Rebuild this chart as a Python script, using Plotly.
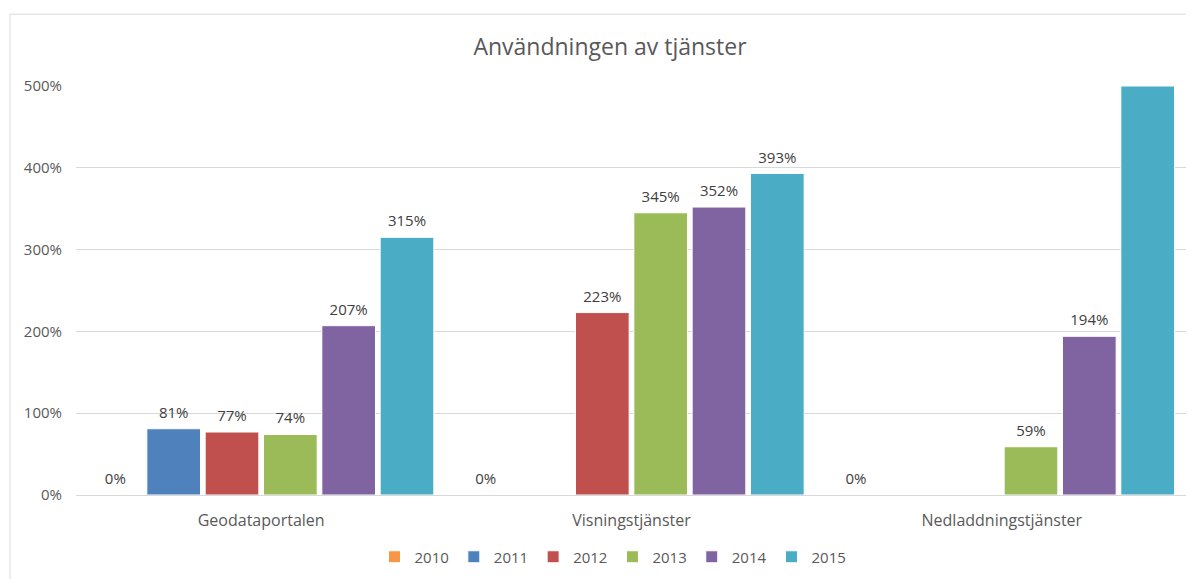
import plotly.graph_objects as go

categories = ["Geodataportalen", "Visningstjänster", "Nedladdningstjänster"]
years = ["2010", "2011", "2012", "2013", "2014", "2015"]
values = {
    "2010": [0, 0, 0],
    "2011": [81, None, None],
    "2012": [77, 223, None],
    "2013": [74, 345, 59],
    "2014": [207, 352, 194],
    "2015": [315, 393, 500],
}
labels = {
    "2010": ["0%", "0%", "0%"],
    "2011": ["81%", "", ""],
    "2012": ["77%", "223%", ""],
    "2013": ["74%", "345%", "59%"],
    "2014": ["207%", "352%", "194%"],
    "2015": ["315%", "393%", ""],
}
colors = ["#F79646", "#4F81BD", "#C0504D", "#9BBB59", "#8064A2", "#4BACC6"]
tick_vals = [0, 100, 200, 300, 400, 500]
tick_text = ["0%", "100%", "200%", "300%", "400%", "500%"]

FONT = "Open Sans"
GAP = 0.055

fig = go.Figure()
for yr, col in zip(years, colors):
    fig.add_trace(go.Bar(
        name=yr, x=categories, y=values[yr], offsetgroup=yr,
        marker=dict(color=col, line=dict(color="white", width=1)),
        hoverinfo="skip",
    ))
for yr in years:
    fig.add_trace(go.Scatter(
        x=categories, y=values[yr], offsetgroup=yr, mode="markers+text",
        text=labels[yr], textposition="top center", cliponaxis=False,
        marker=dict(size=10, opacity=0), showlegend=False, hoverinfo="skip",
        textfont=dict(family=FONT, size=15, color="#404040"),
    ))

W, H = 1186, 571
l, r, t, b = 68, 7, 78, 83
pw, ph = W - l - r, H - t - b

fig.update_layout(
    width=W, height=H,
    margin=dict(l=l, r=r, t=t, b=b),
    paper_bgcolor="white", plot_bgcolor="white",
    barmode="group", bargap=GAP, bargroupgap=0.08,
    scattermode="group", scattergap=GAP,
    title=dict(text="Användningen av tjänster", x=602 / W, xanchor="center",
               y=1 - 39 / H, yanchor="middle",
               font=dict(family=FONT, size=23, color="#595959")),
    font=dict(family=FONT, size=15, color="#595959"),
    xaxis=dict(showline=True, linecolor="#D9D9D9", linewidth=1, ticks="",
               tickfont=dict(family=FONT, size=16, color="#595959"),
               ticklabelstandoff=11),
    yaxis=dict(range=[0, 500], tickvals=tick_vals, ticktext=tick_text,
               gridcolor="#D9D9D9", gridwidth=1, zeroline=False,
               tickfont=dict(family=FONT, size=15, color="#595959"),
               ticklabelstandoff=13),
    legend=dict(orientation="h", x=(605 - l) / pw, xanchor="center",
                y=(488 - 549) / ph, yanchor="middle",
                font=dict(family=FONT, size=15, color="#595959"),
                itemwidth=30, traceorder="normal"),
    showlegend=True,
    shapes=[dict(type="rect", xref="paper", yref="paper",
                 x0=(2 - l) / pw, x1=(1200 - l) / pw,
                 y0=(488 - 600) / ph, y1=1 + (t - 6) / ph,
                 line=dict(color="#D9D9D9", width=1), fillcolor="rgba(0,0,0,0)",
                 layer="below")],
)

fig.write_html("out.html")
